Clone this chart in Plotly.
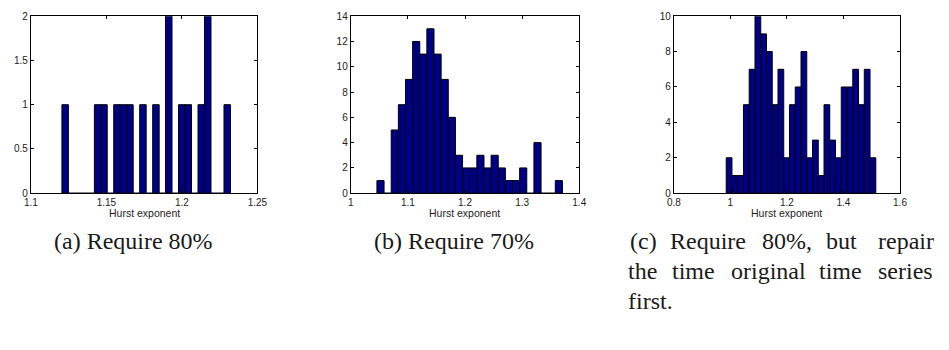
import plotly.graph_objects as go

# ---------------- data ----------------
# (a) Require 80%
a_centers = [1.1227, 1.1270, 1.1313, 1.1356, 1.1399, 1.1442, 1.1484, 1.1527, 1.1570,
             1.1613, 1.1656, 1.1699, 1.1742, 1.1785, 1.1828, 1.1871, 1.1913, 1.1956,
             1.1999, 1.2042, 1.2085, 1.2128, 1.2171, 1.2214, 1.2257, 1.2300]
a_counts = [1, 0, 0, 0, 0, 1, 1, 0, 1, 1, 1, 0, 1, 0, 1, 0, 2, 0, 1, 1, 0, 1, 2, 0, 0, 1]
a_binwidth = 0.00429

# (b) Require 70%
b_centers = [1.0521, 1.0646, 1.0771, 1.0896, 1.1021, 1.1146, 1.1270, 1.1395, 1.1520,
             1.1645, 1.1770, 1.1895, 1.2020, 1.2145, 1.2270, 1.2394, 1.2519, 1.2644,
             1.2769, 1.2894, 1.3019, 1.3144, 1.3269, 1.3393, 1.3518, 1.3643]
b_counts = [1, 0, 5, 7, 9, 12, 11, 13, 11, 9, 6, 3, 2, 2, 3, 2, 3, 2, 1, 1, 2, 0, 4, 0, 0, 1]
b_binwidth = 0.01249

# (c) Require 80%, repaired series
c_centers = [0.9954, 1.0158, 1.0361, 1.0565, 1.0768, 1.0972, 1.1175, 1.1379, 1.1582,
             1.1786, 1.1989, 1.2193, 1.2396, 1.2600, 1.2803, 1.3007, 1.3210, 1.3414,
             1.3617, 1.3821, 1.4024, 1.4228, 1.4431, 1.4635, 1.4838, 1.5042]
c_counts = [2, 1, 1, 5, 7, 10, 9, 8, 5, 7, 2, 5, 6, 8, 2, 3, 1, 5, 3, 2, 6, 6, 7, 5, 7, 2]
c_binwidth = 0.02035

a_xticks = [1.1, 1.15, 1.2, 1.25]
a_xticktext = ["1.1", "1.15", "1.2", "1.25"]
a_yticks = [0, 0.5, 1, 1.5, 2]
a_yticktext = ["0", "0.5", "1", "1.5", "2"]

b_xticks = [1.0, 1.1, 1.2, 1.3, 1.4]
b_xticktext = ["1", "1.1", "1.2", "1.3", "1.4"]
b_yticks = [0, 2, 4, 6, 8, 10, 12, 14]
b_yticktext = ["0", "2", "4", "6", "8", "10", "12", "14"]

c_xticks = [0.8, 1.0, 1.2, 1.4, 1.6]
c_xticktext = ["0.8", "1", "1.2", "1.4", "1.6"]
c_yticks = [0, 2, 4, 6, 8, 10]
c_yticktext = ["0", "2", "4", "6", "8", "10"]

x_label = "Hurst exponent"

# ---------------- figure ----------------
W, H = 949, 350
BAR = "rgb(0,0,135)"
TICKFONT = dict(family="Liberation Sans", size=10, color="#222222")
CAPFONT = dict(family="Liberation Serif", size=24, color="#1a1a1a")

panels = [
    dict(centers=a_centers, counts=a_counts, w=a_binwidth, xr=[1.1, 1.25], yr=[0, 2],
         xt=a_xticks, xtt=a_xticktext, yt=a_yticks, ytt=a_yticktext, px=(24.3, 255.0)),
    dict(centers=b_centers, counts=b_counts, w=b_binwidth, xr=[1.0, 1.4], yr=[0, 14],
         xt=b_xticks, xtt=b_xticktext, yt=b_yticks, ytt=b_yticktext, px=(350.0, 582.7)),
    dict(centers=c_centers, counts=c_counts, w=c_binwidth, xr=[0.8, 1.6], yr=[0, 10],
         xt=c_xticks, xtt=c_xticktext, yt=c_yticks, ytt=c_yticktext, px=(679.0, 909.3)),
]

top_px, bot_px = 10.5, 193.3
ydom = [1 - bot_px / H, 1 - top_px / H]

fig = go.Figure()
layout = dict(
    width=W, height=H,
    margin=dict(l=0, r=0, t=0, b=0),
    paper_bgcolor="white", plot_bgcolor="white",
    showlegend=False,
)

annotations = []
for i, p in enumerate(panels):
    n = "" if i == 0 else str(i + 1)
    xa, ya = "x" + n, "y" + n
    fig.add_trace(go.Bar(
        x=p["centers"], y=p["counts"], width=[p["w"]] * len(p["centers"]),
        marker=dict(color=BAR, line=dict(color="black", width=1)),
        xaxis=xa, yaxis=ya, hoverinfo="x+y",
    ))
    axcommon = dict(showline=True, linecolor="black", linewidth=1, mirror="ticks",
                    ticks="inside", ticklen=3, tickcolor="black", showgrid=False,
                    zeroline=False, tickfont=TICKFONT)
    layout["xaxis" + n] = dict(
        domain=[p["px"][0] / W, p["px"][1] / W], range=p["xr"], anchor=ya,
        tickmode="array", tickvals=p["xt"], ticktext=p["xtt"], **axcommon)
    layout["yaxis" + n] = dict(
        domain=ydom, range=p["yr"], anchor=xa,
        tickmode="array", tickvals=p["yt"], ticktext=p["ytt"], **axcommon)
    annotations.append(dict(
        text=x_label, xref="paper", yref="paper",
        x=(p["px"][0] + p["px"][1]) / 2 / W, y=1 - 214 / H,
        xanchor="center", yanchor="middle", showarrow=False,
        font=dict(family="Liberation Sans", size=10.5, color="#222222")))

# captions
def cap(text, xpx, ypx):
    annotations.append(dict(text=text, xref="paper", yref="paper",
                            x=xpx / W, y=1 - ypx / H, xanchor="left", yanchor="middle",
                            showarrow=False, font=CAPFONT))

cap("(a) Require 80%", 46, 243)
cap("(b) Require 70%", 372, 243)
for word, xp in [("(c)", 632), ("Require", 673), ("80%,", 767), ("but", 832), ("repair", 885)]:
    cap(word, xp, 243)
for word, xp in [("the", 630), ("time", 675), ("original", 735), ("time", 825), ("series", 885)]:
    cap(word, xp, 274)
cap("first.", 630, 305)

layout["annotations"] = annotations
fig.update_layout(**layout)
fig.write_html("out.html")
